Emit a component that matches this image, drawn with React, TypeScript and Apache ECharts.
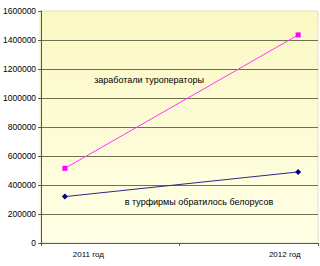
import React, { useEffect, useRef } from "react";
import * as echarts from "echarts";

const categories = ["2011 год", "2012 год"];
const xPositions = [0, 1];
const touroperatorsEarned = [515000, 1435000];
const belarusiansApplied = [320000, 490000];
const yTicks = { min: 0, max: 1600000, interval: 200000 };
const labelTop = "заработали туроператоры";
const labelBottom = "в турфирмы обратилось белорусов";

export default function App() {
  const ref = useRef<HTMLDivElement>(null);
  useEffect(() => {
    if (!ref.current) return;
    const chart = echarts.init(ref.current, null, { renderer: "svg" });
    const font = "'Liberation Sans', Arial, sans-serif";
    chart.setOption({
      animation: false,
      backgroundColor: "#ffffff",
      grid: {
        left: 39,
        right: 2,
        top: 11,
        bottom: 23,
        show: true,
        borderColor: "#deddc8",
        borderWidth: 1,
        backgroundColor: "transparent",
      },
      xAxis: [
        {
          type: "category",
          data: [
            { value: categories[0], textStyle: { padding: [0, 44, 0, 0] } },
            { value: categories[1], textStyle: { padding: [0, 0, 0, 72] } },
          ],
          boundaryGap: true,
          axisLine: { onZero: false, lineStyle: { color: "#555555", width: 1 } },
          axisTick: { show: true, length: 3, lineStyle: { color: "#555555" } },
          axisLabel: { color: "#000", fontSize: 8, fontFamily: font, margin: 7 },
          splitLine: { show: false },
        },
        {
          type: "value",
          show: false,
          min: -0.1021,
          max: 1.0851,
          splitLine: { show: false },
        },
      ],
      yAxis: {
        type: "value",
        min: yTicks.min,
        max: yTicks.max,
        interval: yTicks.interval,
        axisLine: { show: true, onZero: false, lineStyle: { color: "#555555", width: 1 } },
        axisTick: { show: true, length: 3, lineStyle: { color: "#555555" } },
        axisLabel: {
          color: "#000",
          fontSize: 8.5,
          fontFamily: font,
          margin: 5,
          formatter: (v: number) => String(v),
        },
        splitLine: {
          show: true,
          showMaxLine: false,
          lineStyle: { color: "#6f6f52", width: 1 },
        },
      },
      series: [
        {
          type: "line",
          xAxisIndex: 1,
          data: xPositions.map((x, i) => [x, touroperatorsEarned[i]]),
          symbol: "rect",
          symbolSize: 5,
          lineStyle: { color: "#ff33ff", width: 1 },
          itemStyle: { color: "#ff00ff" },
        },
        {
          type: "line",
          xAxisIndex: 1,
          data: xPositions.map((x, i) => [x, belarusiansApplied[i]]),
          symbol: "diamond",
          symbolSize: 6,
          lineStyle: { color: "#2a2a88", width: 1 },
          itemStyle: { color: "#000080" },
        },
      ],
      graphic: [
        {
          type: "rect",
          z: -10,
          silent: true,
          shape: { x: 39, y: 11, width: 279, height: 232 },
          style: {
            fill: {
              type: "linear",
              x: 0,
              y: 0,
              x2: 0,
              y2: 1,
              colorStops: [
                { offset: 0, color: "#fbf8c4" },
                { offset: 1, color: "#ffffe6" },
              ],
            },
          },
        },
        {
          type: "text",
          x: 149,
          y: 80,
          style: {
            text: labelTop,
            fill: "#000",
            font: `9px ${font}`,
            textAlign: "center",
            textVerticalAlign: "middle",
          },
        },
        {
          type: "text",
          x: 199,
          y: 202,
          style: {
            text: labelBottom,
            fill: "#000",
            font: `9px ${font}`,
            textAlign: "center",
            textVerticalAlign: "middle",
          },
        },
      ],
    });
    return () => chart.dispose();
  }, []);
  return <div ref={ref} style={{ width: 320, height: 266, position: "absolute", left: 0, top: 0 }} />;
}
